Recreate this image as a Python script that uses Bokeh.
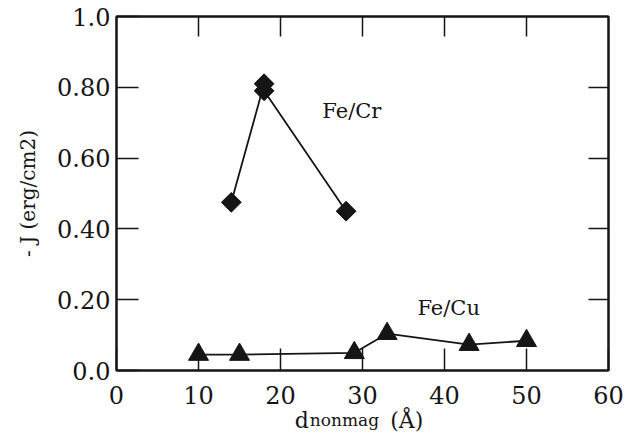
import math
from bokeh.plotting import figure
from bokeh.models import LinearAxis, FixedTicker, Label, Range1d
from bokeh.embed import file_html
from bokeh.resources import INLINE

fecr_x = [14, 18, 18, 28]
fecr_y = [0.475, 0.81, 0.79, 0.45]
fecu_x = [10, 15, 29, 33, 43, 50]
fecu_y = [0.045, 0.045, 0.05, 0.104, 0.073, 0.084]

x_ticks = [0, 10, 20, 30, 40, 50, 60]
y_ticks = [0.0, 0.2, 0.4, 0.6, 0.8, 1.0]
y_tick_labels = {0.0: "0.0", 0.2: "0.20", 0.4: "0.40", 0.6: "0.60", 0.8: "0.80", 1.0: "1.0"}
inner_x_ticks = [10, 20, 30, 40, 50]
inner_y_ticks = [0.2, 0.4, 0.6, 0.8]

FONT = "DejaVu Serif"
INK = "#151515"

p = figure(width=629, height=435, output_backend="svg", toolbar_location=None,
           x_range=Range1d(0, 60), y_range=Range1d(0, 1.0),
           min_border_left=116, min_border_right=21, min_border_top=16, min_border_bottom=61,
           background_fill_color=None, border_fill_color="white")
p.grid.visible = False
p.outline_line_color = INK
p.outline_line_width = 2

for ax in (p.xaxis[0], p.yaxis[0]):
    ax.axis_line_width = 2
    ax.axis_line_color = INK
    ax.major_tick_in = 22
    ax.major_tick_out = 0
    ax.major_tick_line_width = 1.5
    ax.major_tick_line_color = INK
    ax.minor_tick_line_color = None
    ax.major_label_text_font = FONT
    ax.major_label_text_font_size = "24px"
    ax.major_label_text_color = INK

p.xaxis[0].ticker = FixedTicker(ticks=x_ticks)
p.xaxis[0].major_label_standoff = 15
p.yaxis[0].ticker = FixedTicker(ticks=y_ticks)
p.yaxis[0].major_label_overrides = y_tick_labels
p.yaxis[0].major_label_standoff = 6
p.yaxis[0].axis_label = "- J (erg/cm2)"
p.yaxis[0].axis_label_text_font = FONT
p.yaxis[0].axis_label_text_font_style = "normal"
p.yaxis[0].axis_label_text_font_size = "20px"
p.yaxis[0].axis_label_text_color = INK
p.yaxis[0].axis_label_standoff = 14

top = LinearAxis(ticker=FixedTicker(ticks=inner_x_ticks), major_tick_in=20, major_tick_out=0,
                 major_tick_line_width=1.5, major_tick_line_color=INK,
                 minor_tick_line_color=None, axis_line_width=2, axis_line_color=INK,
                 major_label_overrides={t: "" for t in inner_x_ticks},
                 major_label_text_font_size="1px", major_label_standoff=0)
right = LinearAxis(ticker=FixedTicker(ticks=inner_y_ticks), major_tick_in=20, major_tick_out=0,
                   major_tick_line_width=1.5, major_tick_line_color=INK,
                   minor_tick_line_color=None, axis_line_width=2, axis_line_color=INK,
                   major_label_overrides={t: "" for t in inner_y_ticks},
                   major_label_text_font_size="1px", major_label_standoff=0)
p.add_layout(top, "above")
p.add_layout(right, "right")

# x-axis title "d_nonmag (Å)" built from two label-only axes (main text, then subscript)
title_main = LinearAxis(ticker=FixedTicker(ticks=[22.6, 35.4]),
                        major_label_overrides={22.6: "d", 35.4: "(Å)"},
                        major_tick_in=0, major_tick_out=0, axis_line_color=None,
                        major_tick_line_color=None, minor_tick_line_color=None,
                        major_label_text_font=FONT, major_label_text_font_size="22px",
                        major_label_text_color=INK, major_label_standoff=1)
title_sub = LinearAxis(ticker=FixedTicker(ticks=[27.8]),
                       major_label_overrides={27.8: "nonmag"},
                       major_tick_in=0, major_tick_out=0, axis_line_color=None,
                       major_tick_line_color=None, minor_tick_line_color=None,
                       major_label_text_font=FONT, major_label_text_font_size="17px",
                       major_label_text_color=INK, major_label_standoff=-26)
p.add_layout(title_main, "below")
p.add_layout(title_sub, "below")

p.line(fecr_x, fecr_y, line_color=INK, line_width=1.8)
p.scatter(fecr_x, fecr_y, marker="square", angle=math.pi / 4, size=14,
          fill_color=INK, line_color=INK)
p.line(fecu_x, fecu_y, line_color=INK, line_width=1.8)
p.scatter(fecu_x, fecu_y, marker="triangle", size=20, fill_color=INK, line_color=INK)

p.add_layout(Label(x=25.1, y=0.70, text="Fe/Cr", text_font=FONT, text_font_size="21px",
                   text_color=INK))
p.add_layout(Label(x=36.7, y=0.142, text="Fe/Cu", text_font=FONT, text_font_size="21px",
                   text_color=INK))

open("out.html", "w").write(file_html(p, INLINE))
